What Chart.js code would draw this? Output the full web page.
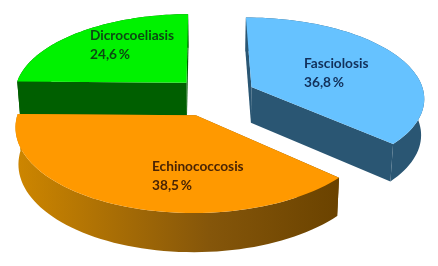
<!DOCTYPE html>
<html>
<head>
<meta charset="utf-8">
<style>
  html, body { margin: 0; padding: 0; background: #ffffff; }
  #wrap { width: 438px; height: 266px; }
</style>
<script src="https://cdn.jsdelivr.net/npm/chart.js@4/dist/chart.umd.min.js"></script>
</head>
<body>
<div id="wrap"><canvas id="pie" width="438" height="266"></canvas></div>
<script>
const categories = ['Fasciolosis', 'Echinococcosis', 'Dicrocoeliasis']
const percentages = [36.8, 38.5, 24.6]

const topColors = ['#66C2FF', '#FF9900', '#00F200']
const textColors = ['#12305A', '#4A2404', '#0B4A12']
const sideColors = ['#2A5673', null, '#005F00']
const explode = [29, 31, 26]

// where the two text lines of each slice start
const labelSpots = [[304, 68], [152, 171], [90, 40]]

// the flat pie is seen in perspective, this maps it on the page
const view = { cx: 213, cy: 95, scaleX: 173, scaleY: 80, tilt: 0.125, depth: 36, shrink: 0.985 }

function project(u, v) {
    const s = 1 / (1 - view.tilt * v)
    return { x: view.cx + view.scaleX * u * s, y: view.cy + view.scaleY * v * s, s: s }
}

function lower(p) {
    return { x: view.cx + (p.x - view.cx) * view.shrink, y: p.y + view.depth * Math.sqrt(p.s), s: p.s }
}

function slicePoints(arc) {
    const d = arc.options.offset / arc.outerRadius
    const mid = (arc.startAngle + arc.endAngle) / 2
    const ou = Math.cos(mid) * d
    const ov = Math.sin(mid) * d
    const rim = []
    const steps = 64
    for (let i = 0; i <= steps; i++) {
        const t = arc.startAngle + (arc.endAngle - arc.startAngle) * i / steps
        rim.push(project(ou + Math.cos(t), ov + Math.sin(t)))
    }
    return { apex: project(ou, ov), rim: rim }
}

function fillPoly(ctx, pts, style) {
    ctx.beginPath()
    pts.forEach((p, i) => i === 0 ? ctx.moveTo(p.x, p.y) : ctx.lineTo(p.x, p.y))
    ctx.closePath()
    ctx.fillStyle = style
    ctx.fill()
}

function drawSlice(ctx, arc, index) {
    const { apex, rim } = slicePoints(arc)
    const first = rim[0]
    const last = rim[rim.length - 1]

    let side = sideColors[index]
    if (!side) {
        side = ctx.createLinearGradient(20, 0, 336, 0)
        side.addColorStop(0, '#CC8500')
        side.addColorStop(0.6, '#85560A')
        side.addColorStop(1, '#6B4300')
    }

    fillPoly(ctx, [apex, first, lower(first), lower(apex)], side)
    fillPoly(ctx, [apex, last, lower(last), lower(apex)], side)
    fillPoly(ctx, rim.concat(rim.slice().reverse().map(lower)), side)
    fillPoly(ctx, [apex].concat(rim), topColors[index])
}

const pie3d = {
    id: 'pie3d',
    beforeDatasetsDraw(chart) {
        const ctx = chart.ctx
        const arcs = chart.getDatasetMeta(0).data
        ctx.save()
        // back to front
        ;[2, 0, 1].forEach(i => drawSlice(ctx, arcs[i], i))

        ctx.font = 'bold 13.7px Lato'
        ctx.textAlign = 'left'
        ctx.textBaseline = 'alphabetic'
        ctx.wordSpacing = '-1.5px'
        categories.forEach((name, i) => {
            const [x, y] = labelSpots[i]
            ctx.fillStyle = textColors[i]
            ctx.fillText(name, x, y)
            ctx.fillText(String(percentages[i]).replace('.', ',') + ' %', x, y + 19)
        })
        ctx.restore()
        return false
    }
}

new Chart(document.getElementById('pie'), {
    type: 'pie',
    data: {
        labels: categories,
        datasets: [{
            data: percentages,
            backgroundColor: topColors,
            borderWidth: 0,
            offset: explode
        }]
    },
    options: {
        responsive: false,
        animation: false,
        rotation: -0.5,
        plugins: { legend: { display: false }, tooltip: { enabled: false } }
    },
    plugins: [pie3d]
})
</script>
</body>
</html>
